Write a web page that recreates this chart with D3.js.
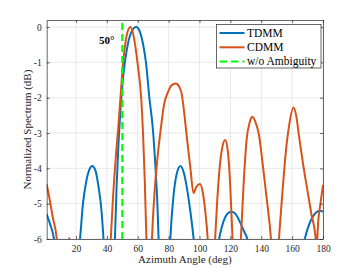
<!DOCTYPE html>
<html>
<head>
<meta charset="utf-8">
<script src="https://cdn.jsdelivr.net/npm/d3@7"></script>
<style>
  body { margin: 0; background: #fff; }
  text { font-family: "Liberation Serif", "Times New Roman", serif; fill: #262626; }
</style>
</head>
<body>
<svg id="chart"></svg>
<script>
// beam pattern samples (deg, dB); values below -6 are clipped by the axes
var tdmmAngle = [1, 3, 5.7, 9, 14, 19, 22.6, 24.5, 26.5, 28.5, 30.5, 32.5, 34.5, 36.5, 37.8, 40, 41.5, 43.5,
    45.2, 46.3, 47.5, 48.5, 50, 51.5, 53.5, 56, 59, 61.5, 63.5, 65.3, 67.5, 69.8, 71.5, 72.7, 73.5, 75.5, 77.5, 79.5,
    81.1, 83, 85, 87.6, 90, 92, 94, 96.2, 100, 104, 108, 112.7, 114.5, 116.8, 119, 121, 123.5, 126, 128.5, 131,
    140, 150, 160, 168.2, 170.5, 173, 175.5, 178, 180];
var tdmmValue = [-5.3, -5.55, -6, -7.5, -10, -7.5, -6, -5, -4.4, -4.05, -3.93, -4.05, -4.5, -5.2, -6, -8, -10, -8,
    -6, -4.5, -3.3, -2.55, -1.65, -1.05, -0.5, -0.13, 0, -0.15, -0.5, -1, -2, -2.9, -4, -5, -6, -9, -10, -8,
    -6, -4.85, -4.2, -3.93, -4.15, -4.6, -5.2, -6, -8, -10, -8, -6, -5.65, -5.37, -5.25, -5.23, -5.3, -5.5, -5.75, -6,
    -9, -10, -9, -6, -5.65, -5.4, -5.25, -5.2, -5.22];

var cdmmAngle = [1, 3, 5, 7.5, 9.5, 11.5, 13.5, 15.7, 17.5, 20, 30, 38,
    42.5, 44, 46, 47.5, 48.7, 50.3, 52, 53.5, 55.3, 57.5, 59.8, 62.2, 63.4, 64.5, 65.6, 67.3,
    69.2, 71, 73, 75, 77, 79.5, 82, 84.5, 87, 88.5, 90, 92, 94, 96.1, 98, 100.3, 102, 103.8, 105.3, 107.7,
    110.1, 111.5, 113, 114.8, 116.6, 118.3, 119.8, 121.4, 124,
    126.8, 128.5, 130.6, 132.5, 134.2, 136.3, 138.5, 141, 143.5, 146.3, 149,
    151.5, 153.5, 156, 158, 160.9, 162.8, 164.5, 167, 170, 172.5, 175.3, 175.6, 177, 178.5, 180];
var cdmmValue = [-4.45, -4.9, -5.4, -6, -7.5, -8.5, -7, -5.97, -7, -9, -10, -9,
    -6, -4.8, -3.55, -2.77, -2.05, -1.1, -0.45, -0.12, 0, -0.3, -1, -2, -3, -4.3, -6, -9,
    -6, -4.6, -3.6, -2.85, -2.2, -1.85, -1.65, -1.6, -1.7, -1.9, -2.4, -3.2, -3.95, -4.7, -4.52, -4.44, -4.65, -5.25, -6, -8.5,
    -6, -4.9, -4.0, -3.4, -3.2, -3.5, -4.4, -6, -8.5,
    -6, -4.5, -3.15, -2.7, -2.54, -2.7, -3.05, -3.9, -4.85, -6, -8,
    -6, -4.8, -3.5, -2.8, -2.28, -2.55, -3.1, -3.85, -4.65, -5.3, -6, -6.4, -5.45, -4.95, -4.47];

var trueAngle = 50;
var xTicks = [20, 40, 60, 80, 100, 120, 140, 160, 180];
var yTicks = [0, -1, -2, -3, -4, -5, -6];
var seriesNames = ["TDMM", "CDMM", "w/o Ambiguity"];
var seriesColors = ["#0072BD", "#D95319", "#00ff00"];

var W = 357, H = 268;
var plotLeft = 46.7, plotRight = 323, plotTop = 20, plotBottom = 239;

var svg = d3.select("#chart")
    .attr("width", W)
    .attr("height", H);

var xScale = d3.scaleLinear().domain([1, 180]).range([plotLeft, plotRight]);
var yScale = d3.scaleLinear().domain([-6, 0.2]).range([plotBottom, plotTop]);

// grid
svg.append("g").selectAll("line")
    .data(xTicks)
    .enter().append("line")
    .attr("x1", function(d) { return xScale(d); })
    .attr("x2", function(d) { return xScale(d); })
    .attr("y1", plotTop).attr("y2", plotBottom)
    .style("stroke", "#e3e3e3").style("stroke-width", 0.8);

svg.append("g").selectAll("line")
    .data(yTicks)
    .enter().append("line")
    .attr("y1", function(d) { return yScale(d); })
    .attr("y2", function(d) { return yScale(d); })
    .attr("x1", plotLeft).attr("x2", plotRight)
    .style("stroke", "#e3e3e3").style("stroke-width", 0.8);

svg.append("clipPath").attr("id", "plotclip")
    .append("rect")
    .attr("x", plotLeft).attr("y", plotTop)
    .attr("width", plotRight - plotLeft).attr("height", plotBottom - plotTop);

var line = d3.line()
    .x(function(d) { return xScale(d[0]); })
    .y(function(d) { return yScale(d[1]); })
    .curve(d3.curveMonotoneX);

var plot = svg.append("g").attr("clip-path", "url(#plotclip)");

plot.append("path")
    .datum(d3.zip(tdmmAngle, tdmmValue))
    .attr("d", line)
    .style("fill", "none")
    .style("stroke", seriesColors[0])
    .style("stroke-width", 2);

plot.append("path")
    .datum(d3.zip(cdmmAngle, cdmmValue))
    .attr("d", line)
    .style("fill", "none")
    .style("stroke", seriesColors[1])
    .style("stroke-width", 2);

plot.append("line")
    .attr("x1", xScale(trueAngle)).attr("x2", xScale(trueAngle))
    .attr("y1", plotBottom).attr("y2", plotTop)
    .style("stroke", seriesColors[2])
    .style("stroke-width", 2.2)
    .style("stroke-dasharray", "7,4");

svg.append("text")
    .attr("x", 99)
    .attr("y", 43.5)
    .style("font-size", "11px")
    .style("font-weight", "bold")
    .style("fill", "#000")
    .text(trueAngle + "\u00b0");

// axes box with inward ticks
var plain = function(d) { return String(d); };
var xAxisB = d3.axisBottom(xScale).tickValues(xTicks).tickSizeInner(-3).tickSizeOuter(0).tickPadding(6).tickFormat(plain);
var xAxisT = d3.axisTop(xScale).tickValues(xTicks).tickSizeInner(-3).tickSizeOuter(0).tickFormat("");
var yAxisL = d3.axisLeft(yScale).tickValues(yTicks).tickSizeInner(-3).tickSizeOuter(0).tickPadding(5).tickFormat(plain);
var yAxisR = d3.axisRight(yScale).tickValues(yTicks).tickSizeInner(-3).tickSizeOuter(0).tickFormat("");

svg.append("g").attr("transform", "translate(0," + plotBottom + ")").call(xAxisB);
svg.append("g").attr("transform", "translate(0," + plotTop + ")").call(xAxisT);
svg.append("g").attr("transform", "translate(" + plotLeft + ",0)").call(yAxisL);
svg.append("g").attr("transform", "translate(" + plotRight + ",0)").call(yAxisR);

svg.selectAll(".domain").style("stroke", "#262626").style("stroke-width", 0.7);
svg.selectAll(".tick line").style("stroke", "#262626").style("stroke-width", 0.7);
svg.selectAll(".tick text")
    .style("font-family", "\"Liberation Serif\", \"Times New Roman\", serif")
    .style("font-size", "9.5px")
    .style("fill", "#262626");

svg.append("text")
    .attr("x", (plotLeft + plotRight) / 2)
    .attr("y", 263)
    .style("text-anchor", "middle")
    .style("font-size", "11px")
    .text("Azimuth Angle (deg)");

svg.append("text")
    .attr("transform", "translate(30.5," + ((plotTop + plotBottom) / 2) + ") rotate(-90)")
    .style("text-anchor", "middle")
    .style("font-size", "11px")
    .text("Normalized Spectrum (dB)");

// legend
var legend = svg.append("g");
legend.append("rect")
    .attr("x", 216.5).attr("y", 24.5)
    .attr("width", 104.5).attr("height", 43.5)
    .style("fill", "#fff")
    .style("stroke", "#262626")
    .style("stroke-width", 0.7);

var entry = legend.selectAll(".entry")
    .data(seriesNames)
    .enter().append("g")
    .attr("class", "entry")
    .attr("transform", function(d, i) { return "translate(0," + (33 + i * 14.3) + ")"; });

entry.append("line")
    .attr("x1", 219.5).attr("x2", 244.5)
    .attr("y1", 0).attr("y2", 0)
    .style("stroke", function(d, i) { return seriesColors[i]; })
    .style("stroke-width", 2)
    .style("stroke-dasharray", function(d, i) { return i == 2 ? "7.5,4" : null; });

entry.append("text")
    .attr("x", 247)
    .attr("y", 3.8)
    .style("font-size", "11.5px")
    .style("fill", "#000")
    .text(function(d) { return d; });
</script>
</body>
</html>
